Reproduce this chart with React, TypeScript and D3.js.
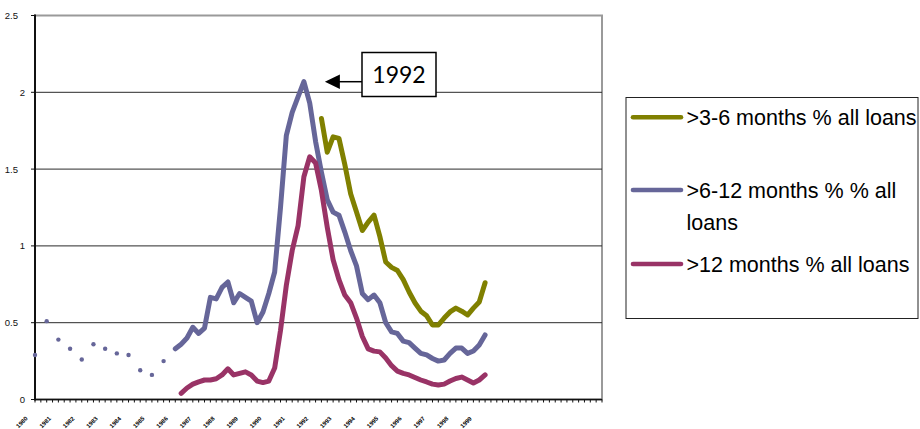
import React from "react";
import * as d3 from "d3";

// ---- data ----
const N_CATEGORIES = 98;
const tickLabels = ["1980","1981","1982","1983","1984","1985","1986","1987","1988","1989","1990","1991","1992","1993","1994","1995","1996","1997","1998","1999"];
const yTicks = [0, 0.5, 1, 1.5, 2, 2.5];

// >6-12 months: early isolated readings every second category from category 0
const s6to12Early = [0.29, 0.51, 0.39, 0.33, 0.26, 0.36, 0.33, 0.30, 0.29, 0.19, 0.16, 0.25];
const s6to12Start = 24;
const s6to12 = [0.33, 0.36, 0.40, 0.47, 0.43, 0.465, 0.665, 0.655, 0.73, 0.765, 0.63, 0.69, 0.665, 0.64, 0.50, 0.57, 0.69, 0.83, 1.25, 1.72, 1.87, 1.97, 2.07, 1.93, 1.68, 1.48, 1.30, 1.22, 1.20, 1.09, 0.97, 0.87, 0.69, 0.65, 0.68, 0.63, 0.50, 0.44, 0.43, 0.38, 0.37, 0.335, 0.30, 0.29, 0.267, 0.25, 0.257, 0.30, 0.335, 0.335, 0.30, 0.316, 0.355, 0.42];

const s12Start = 25;
const s12 = [0.04, 0.075, 0.10, 0.115, 0.127, 0.127, 0.135, 0.16, 0.20, 0.16, 0.17, 0.18, 0.16, 0.12, 0.11, 0.12, 0.205, 0.45, 0.745, 0.97, 1.13, 1.45, 1.58, 1.54, 1.36, 1.12, 0.91, 0.78, 0.68, 0.63, 0.53, 0.41, 0.33, 0.315, 0.31, 0.27, 0.22, 0.185, 0.17, 0.16, 0.143, 0.127, 0.114, 0.10, 0.094, 0.10, 0.12, 0.137, 0.146, 0.127, 0.107, 0.127, 0.16];

const s3to6Start = 49;
const s3to6 = [1.83, 1.61, 1.71, 1.70, 1.53, 1.34, 1.22, 1.10, 1.155, 1.20, 1.06, 0.895, 0.86, 0.84, 0.78, 0.70, 0.63, 0.575, 0.545, 0.485, 0.485, 0.53, 0.57, 0.595, 0.575, 0.55, 0.595, 0.635, 0.76];

const seriesNames = [">3-6 months % all loans", ">6-12 months % % all", "loans", ">12 months % all loans"];
const calloutLabel = "1992";
const calloutIndex = 46;
const calloutValue = 2.07;

const OLIVE = "#808000";
const BLUE = "#666699";
const MAGENTA = "#993366";

export default function App() {
  const W = 920, H = 429;
  const left = 35, right = 602, top = 15.5, bottom = 399.5;
  const x = d3.scaleLinear().domain([0, N_CATEGORIES - 1]).range([left, right]);
  const y = d3.scaleLinear().domain([0, 2.5]).range([bottom, top]);

  const line = d3.line<[number, number]>().x(d => x(d[0])).y(d => y(d[1])).curve(d3.curveLinear);
  const toPts = (start: number, vals: number[]) => vals.map((v, i) => [start + i, v] as [number, number]);

  const lineStyle = { fill: "none", strokeWidth: 5, strokeLinejoin: "round" as const, strokeLinecap: "round" as const };

  const catTicks = d3.range(N_CATEGORIES);
  const peakX = x(calloutIndex);

  return (
    <svg width={W} height={H} style={{ position: "absolute", left: 0, top: 0, background: "#fff" }}
      fontFamily="'Liberation Sans', Arial, sans-serif">
      {/* plot frame */}
      <rect x={left} y={top} width={right - left} height={bottom - top} fill="none" stroke="#9a9a9a" strokeWidth={2} />
      {/* gridlines */}
      {yTicks.filter(t => t > 0 && t < 2.5).map(t => (
        <line key={t} x1={left} x2={right} y1={y(t)} y2={y(t)} stroke="#2a2a2a" strokeWidth={1} />
      ))}
      {/* y axis */}
      <line x1={left} x2={left} y1={top - 1} y2={bottom + 1} stroke="#111" strokeWidth={2} />
      {yTicks.map(t => (
        <g key={"yt" + t}>
          <line x1={left - 4} x2={left} y1={y(t)} y2={y(t)} stroke="#111" strokeWidth={1} />
          <text x={Number.isInteger(t) ? 25 : 18} y={y(t) + 3.5} fontSize={9.5} textAnchor="end" fill="#111">{d3.format("")(t)}</text>
        </g>
      ))}
      {/* x axis */}
      <line x1={left} x2={right} y1={bottom} y2={bottom} stroke="#111" strokeWidth={1.5} />
      {catTicks.map(i => (
        <line key={"xt" + i} x1={x(i)} x2={x(i)} y1={bottom} y2={bottom + 3} stroke="#111" strokeWidth={1} />
      ))}
      {tickLabels.map((lab, k) => {
        const tx = x(k * 4) - 7;
        const ty = 419;
        return (
          <text key={lab} x={tx} y={ty} fontSize={6} fontWeight={900} textAnchor="end"
            transform={`rotate(-45 ${tx} ${ty})`} fill="#000">{lab}</text>
        );
      })}

      {/* early isolated points */}
      {s6to12Early.map((v, k) => (
        <circle key={"d" + k} cx={x(k * 2)} cy={y(v)} r={2.2} fill={BLUE} />
      ))}
      {/* series lines */}
      <path d={line(toPts(s6to12Start, s6to12)) || ""} stroke={BLUE} {...lineStyle} />
      <path d={line(toPts(s12Start, s12)) || ""} stroke={MAGENTA} {...lineStyle} />
      <path d={line(toPts(s3to6Start, s3to6)) || ""} stroke={OLIVE} {...lineStyle} />

      {/* callout */}
      <line x1={362} x2={338} y1={81.7} y2={81.7} stroke="#000" strokeWidth={1.5} />
      <polygon points={`${peakX + 21},81.7 ${peakX + 36},74.5 ${peakX + 36},89`} fill="#000" />
      <rect x={362} y={52.5} width={74} height={44} fill="#fff" stroke="#000" strokeWidth={1.5} />
      <text x={399} y={83} fontSize={23} textAnchor="middle" fontFamily="Lato, 'Open Sans', sans-serif" fill="#000">{calloutLabel}</text>

      {/* legend */}
      <rect x={626} y={97.5} width={292} height={221} fill="#fff" stroke="#222" strokeWidth={1} />
      <line x1={633} x2={681} y1={117.3} y2={117.3} stroke={OLIVE} strokeWidth={4.6} strokeLinecap="round" />
      <text x={686.5} y={125} fontSize={21.5} fill="#000">{seriesNames[0]}</text>
      <line x1={633} x2={681} y1={190} y2={190} stroke={BLUE} strokeWidth={4.6} strokeLinecap="round" />
      <text x={686.5} y={198} fontSize={21.5} fill="#000">{seriesNames[1]}</text>
      <text x={686.5} y={230} fontSize={21.5} fill="#000">{seriesNames[2]}</text>
      <line x1={633} x2={681} y1={264} y2={264} stroke={MAGENTA} strokeWidth={4.6} strokeLinecap="round" />
      <text x={686.5} y={272} fontSize={21.5} fill="#000">{seriesNames[3]}</text>
    </svg>
  );
}
